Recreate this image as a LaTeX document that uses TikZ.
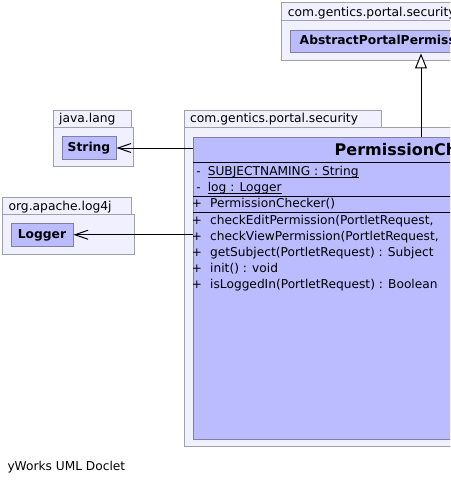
\documentclass[tikz,border=0pt]{standalone}
\usepackage{fontspec}
\setmainfont{DejaVu Sans}
\usetikzlibrary{arrows.meta}
\definecolor{pkgfill}{RGB}{240,240,255}
\definecolor{pkgline}{RGB}{160,160,172}
\definecolor{clsfill}{RGB}{187,187,255}
\definecolor{clsline}{RGB}{128,128,165}
\begin{document}
\begin{tikzpicture}[x=1pt,y=-1pt,
  pkg/.style={draw=pkgline, fill=pkgfill, line width=1pt},
  cls/.style={draw=clsline, fill=clsfill, line width=1pt, inner sep=0pt, anchor=north west},
  pkglabel/.style={anchor=base west, inner sep=0pt, font=\fontsize{12.3}{14}\selectfont},
  clsname/.style={font=\bfseries\fontsize{12.3}{14}\selectfont, text height=9pt, text depth=2.5pt},
  member/.style={anchor=base west, inner sep=0pt, font=\fontsize{12.2}{14}\selectfont},
  vis/.style={anchor=base, inner sep=0pt, font=\fontsize{12}{14}\selectfont},
  dep/.style={draw=black, line width=1pt, -{Straight Barb[length=13pt,width=9pt]}},
  inherit/.style={draw=black, line width=1pt, -{Triangle[open,length=15pt,width=12pt,fill=white]}},
  sep/.style={draw=black, line width=1pt}]
\useasboundingbox (0,0) rectangle (450,484);
\clip (0,0) rectangle (450,484);
\fill[white] (0,0) rectangle (450,484);

% package com.gentics.portal.security (top)
\path[pkg] (281.5,2.5) rectangle (480,21);
\path[pkg] (281.5,21) rectangle (700,61);
\node[pkglabel] (toplabel) at (287.6,16.8) {com.gentics.portal.security};
\node[cls, clsname, minimum width=197pt, minimum height=22.5pt] (abs) at (289.5,30) {AbstractPortalPermission};

% package java.lang
\path[pkg] (53.5,110.5) rectangle (131.5,127);
\path[pkg] (53.5,127) rectangle (133.5,166.5);
\node[pkglabel] (javalabel) at (59,122.8) {java.lang};
\node[cls, clsname, minimum width=54pt, minimum height=23pt] (string) at (61.5,136) {String};

% package org.apache.log4j
\path[pkg] (2.5,197.5) rectangle (131.5,214.5);
\path[pkg] (2.5,214.5) rectangle (134.5,254);
\node[pkglabel] (loglabel) at (8.4,210.8) {org.apache.log4j};
\node[cls, clsname, minimum width=62pt, minimum height=22.5pt] (logger) at (10.5,223) {Logger};

% package com.gentics.portal.security (main)
\path[pkg] (184.5,110.5) rectangle (381.5,127);
\path[pkg] (184.5,127) rectangle (664,446);
\node[pkglabel] (seclabel) at (190,122.8) {com.gentics.portal.security};
\node[cls, minimum width=464pt, minimum height=301.5pt] (pc) at (192.5,137) {};
\node[anchor=base west, inner sep=0pt, font=\bfseries\fontsize{16}{18}\selectfont] (pctitle) at (334.5,155) {PermissionChecker};
\draw[sep] (192.5,162) -- (656,162);
\draw[sep] (192.5,196.5) -- (656,196.5);
\draw[sep] (192.5,212) -- (656,212);

% attributes
\node[vis] (v1) at (198.6,175.5) {-};
\node[member] (a1) at (207.6,175.5) {SUBJECTNAMING : String};
\draw[sep] ([yshift=-1.8pt]a1.base west) -- ([yshift=-1.8pt]a1.base east);
\node[vis] (v2) at (198.6,191.5) {-};
\node[member] (a2) at (207.6,191.5) {log : Logger};
\draw[sep] ([yshift=-1.8pt]a2.base west) -- ([yshift=-1.8pt]a2.base east);

% constructor
\node[vis] (v3) at (197,207.5) {+};
\node[member] (c1) at (210,207.5) {PermissionChecker()};

% methods
\node[vis] (v4) at (197,224.5) {+};
\node[member] (o1) at (210,224.5) {checkEditPermission(PortletRequest,};
\node[vis] (v5) at (197,240.5) {+};
\node[member] (o2) at (210,240.5) {checkViewPermission(PortletRequest,};
\node[vis] (v6) at (197,256.5) {+};
\node[member] (o3) at (210,256.5) {getSubject(PortletRequest) : Subject};
\node[vis] (v7) at (197,272.5) {+};
\node[member] (o4) at (210,272.5) {init() : void};
\node[vis] (v8) at (197,288.5) {+};
\node[member] (o5) at (210,288.5) {isLoggedIn(PortletRequest) : Boolean};

% connectors
\draw[dep] (pc.west |- string) -- (string.east);
\draw[dep] (pc.west |- logger) -- (logger.east);
\coordinate (inh) at (421,0);
\draw[inherit] (pc.north -| inh) -- (abs.south -| inh);

% footer
\node[member] (footer) at (7.3,470.5) {yWorks UML Doclet};
\end{tikzpicture}
\end{document}
